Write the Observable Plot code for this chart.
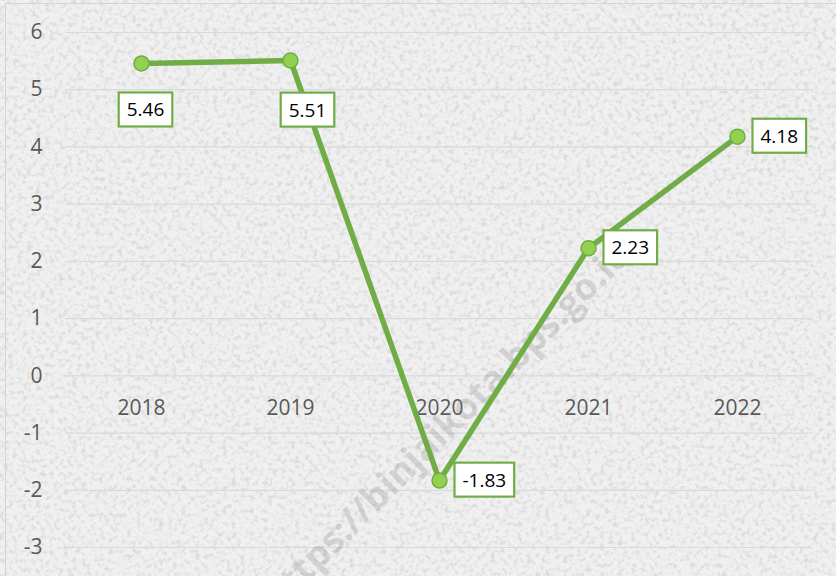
<!DOCTYPE html>
<html>
<head>
<meta charset="utf-8">
<script src="https://cdn.jsdelivr.net/npm/d3@7"></script>
<script src="https://cdn.jsdelivr.net/npm/@observablehq/plot@0.6"></script>
<style>
  html, body { margin: 0; padding: 0; }
  body {
    width: 836px; height: 576px; overflow: hidden;
    background-color: #ececec;
    background-image: url("data:image/svg+xml,%3Csvg xmlns='http://www.w3.org/2000/svg' width='836' height='576'%3E%3Cfilter id='n' x='0' y='0' width='100%25' height='100%25'%3E%3CfeTurbulence type='fractalNoise' baseFrequency='0.22' numOctaves='3' seed='7'/%3E%3CfeColorMatrix type='matrix' values='0 0 0 0 0.62  0 0 0 0 0.62  0 0 0 0 0.62  3.4 0 0 0 -1.6'/%3E%3C/filter%3E%3Crect width='100%25' height='100%25' fill='%23f0f0f0'/%3E%3Crect width='100%25' height='100%25' filter='url(%23n)' opacity='0.6'/%3E%3C/svg%3E");
  }
</style>
</head>
<body>
<div id="chart"></div>
<script>
// Data
const years = ["2018", "2019", "2020", "2021", "2022"];
const values = [5.46, 5.51, -1.83, 2.23, 4.18];
const yTicks = [-3, -2, -1, 0, 1, 2, 3, 4, 5, 6];
const watermark = ["https://binjaikota.bps.go.id"];

const data = years.map((year, i) => ({year, value: values[i], label: values[i].toFixed(2)}));
const labelSet = new Set(data.map(d => d.label));

const green = "#70AD47";
const font = "Open Sans";

const chart = Plot.plot({
  width: 836,
  height: 576,
  marginTop: 32,
  marginBottom: 29,
  marginLeft: 65,
  marginRight: 24,
  style: {background: "transparent", fontFamily: font, overflow: "visible"},
  x: {type: "point", domain: years, padding: 0.5, axis: null},
  y: {domain: [-3, 6], axis: null},
  marks: [
    Plot.frame({stroke: "#d4d4d4", insetLeft: -60, insetTop: -29, insetRight: -40, insetBottom: -60}),
    Plot.ruleY(yTicks, {stroke: "#d9d9d9", strokeWidth: 1.2}),
    Plot.axisY(yTicks, {label: null, tickSize: 0, tickPadding: 23, fontSize: 21, color: "#595959", tickFormat: d => d < 0 ? "-" + Math.abs(d) : String(d)}),
    Plot.text(years, {x: d => d, y: () => 0, dy: 32, fontSize: 21, fill: "#595959"}),
    Plot.text(watermark, {frameAnchor: "middle", dx: 8, dy: 136, rotate: -45, fontSize: 37, fontWeight: "bold", fill: "#8a8a8a", fillOpacity: 0.28, text: d => d}),
    Plot.line(data, {x: "year", y: "value", stroke: green, strokeWidth: 5.5, strokeLinejoin: "round"}),
    Plot.dot(data, {x: "year", y: "value", r: 7.5, fill: "#92D050", stroke: green, strokeWidth: 1.5}),
    Plot.text(data, {filter: (d, i) => i === 0, x: "year", y: "value", text: "label", dx: 4, dy: 47, fontSize: 19, fill: "#000"}),
    Plot.text(data, {filter: (d, i) => i === 1, x: "year", y: "value", text: "label", dx: 17, dy: 50, fontSize: 19, fill: "#000"}),
    Plot.text(data, {filter: (d, i) => i >= 2, x: "year", y: "value", text: "label", dx: 23, textAnchor: "start", fontSize: 19, fill: "#000"})
  ]
});

document.getElementById("chart").appendChild(chart);

// White boxes with green borders behind the data labels
function addBoxes() {
  chart.querySelectorAll("text").forEach(t => {
    if (!labelSet.has(t.textContent.trim())) return;
    const b = t.getBBox();
    const padX = 8, padY = 4;
    const r = document.createElementNS("http://www.w3.org/2000/svg", "rect");
    r.setAttribute("x", b.x - padX);
    r.setAttribute("y", b.y - padY);
    r.setAttribute("width", b.width + 2 * padX);
    r.setAttribute("height", b.height + 2 * padY);
    r.setAttribute("fill", "#ffffff");
    r.setAttribute("stroke", green);
    r.setAttribute("stroke-width", 2.2);
    const tr = t.getAttribute("transform");
    if (tr) r.setAttribute("transform", tr);
    t.parentNode.insertBefore(r, t);
  });
}
addBoxes();
</script>
</body>
</html>
